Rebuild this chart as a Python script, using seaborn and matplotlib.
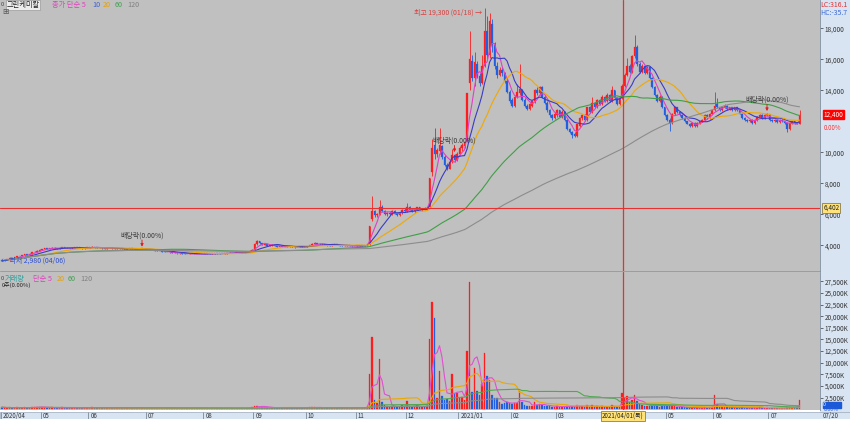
import numpy as np
import pandas as pd
import matplotlib
matplotlib.use("Agg")
import matplotlib.pyplot as plt
import matplotlib.transforms as mtrans
from matplotlib.patches import Rectangle
import seaborn as sns

# ---------------- data ----------------
month_labels = ["2020/04", "05", "06", "07", "08", "09", "10", "11", "12",
                "2021/01", "02", "03", "05", "06", "07"]
month_starts = [0, 16, 35, 58, 81, 101, 122, 142, 162, 183, 204, 222, 266, 285, 307]

opens = [
    3010,2990,3060,3100,3190,3150,3230,3310,3280,3350,3430,3400,3470,3560,3600,3660,
    3700,3760,3800,3780,3820,3850,3800,3780,3830,3870,3850,3820,3800,3840,3880,3860,3820,3800,3830,
    3850,3880,3900,3860,3820,3850,3800,3780,3820,3850,3800,3760,3780,3800,3750,3720,3760,3800,3780,3750,3730,3760,3780,
    3740,3720,3700,3680,3650,3620,3640,3600,3580,3560,3540,3520,3500,3480,3500,3470,3450,3430,3460,3440,3420,3450,3430,
    3440,3460,3480,3450,3470,3500,3480,3460,3440,3470,3500,3520,3500,3530,3550,3520,3540,3560,3600,3650,
    3720,4100,4250,4150,4050,4080,3980,4000,4030,3960,3920,3940,3900,3920,3960,3930,3890,3870,3900,3920,3890,
    3900,3950,4020,4080,4150,4100,4060,4100,4030,4000,3980,4020,4060,4010,3980,3950,3970,3990,3960,3940,
    3960,3970,3980,3960,4000,4060,5700,6200,5950,6000,6500,6200,6000,6100,6000,6200,6050,5950,6100,6300,
    6200,6500,6300,6200,6300,6450,6300,6350,6300,6450,8700,10500,9900,10100,10400,9700,9200,8950,9400,9800,9500,
    9900,10300,10400,10700,14500,15900,14800,15700,14900,14500,15600,17800,16300,18300,16900,15600,15000,15300,15100,14600,13900,
    13400,13000,13600,13800,14000,13400,13000,12800,13000,13300,14000,13800,14200,13600,13200,12700,12400,12200,
    12400,12700,12300,12600,12100,11500,11300,11200,11050,11700,12200,12400,12100,12900,12600,13200,12900,13400,13100,13600,13300,13700,13300,14000,13500,13100,
    13500,14300,15000,15600,15200,16200,16800,15700,15200,15600,15100,15500,14800,14200,13700,13300,13600,12900,
    12400,12100,11900,12500,12900,12600,12400,12200,12000,11850,11700,11900,11700,11900,12000,12100,12400,12200,12500,
    12700,13100,12900,12700,12900,13000,12800,12900,12700,12900,12700,12500,12200,12100,12000,12100,11900,12100,12300,12400,12200,12400,
    12450,12100,12000,12100,11950,12100,12000,11900,11500,11900,12000,11900,11850,
]
closes = [
    2990,3060,3100,3190,3150,3230,3310,3280,3350,3430,3400,3470,3560,3600,3660,3700,
    3760,3800,3780,3820,3850,3800,3780,3830,3870,3850,3820,3800,3840,3880,3860,3820,3800,3830,3850,
    3880,3900,3860,3820,3850,3800,3780,3820,3850,3800,3760,3780,3800,3750,3720,3760,3800,3780,3750,3730,3760,3780,3740,
    3720,3700,3680,3650,3620,3640,3600,3580,3560,3540,3520,3500,3480,3500,3470,3450,3430,3460,3440,3420,3450,3430,3440,
    3460,3480,3450,3470,3500,3480,3460,3440,3470,3500,3520,3500,3530,3550,3520,3540,3560,3600,3650,3720,
    4100,4250,4150,4050,4080,3980,4000,4030,3960,3920,3940,3900,3920,3960,3930,3890,3870,3900,3920,3890,3900,
    3950,4020,4080,4150,4100,4060,4100,4030,4000,3980,4020,4060,4010,3980,3950,3970,3990,3960,3940,3960,
    3970,3980,3960,4000,4050,5260,6200,5950,6000,6500,6200,6000,6100,6000,6200,6050,5950,6100,6300,6200,
    6500,6300,6200,6300,6450,6300,6350,6300,6400,8350,10300,9900,10150,10500,9700,9200,8950,9400,9800,9500,9900,
    10300,10450,10650,13850,16000,14800,15800,14900,14500,15600,17800,16300,18500,16900,15600,15000,15300,15100,14600,13900,13300,
    13000,13600,13900,14100,13400,13000,12800,13100,13300,14000,13800,14200,13600,13200,12700,12400,12200,12500,
    12700,12300,12600,12100,11500,11300,11100,11050,11800,12200,12400,12100,12900,12600,13200,12900,13400,13100,13600,13300,13700,13300,14000,13500,13100,13500,
    14300,15000,15600,15200,16200,16800,15700,15200,15600,15100,15500,14800,14200,13700,13300,13600,12900,12400,
    12100,11900,12500,12900,12600,12400,12200,12000,11850,11700,11900,11700,11900,12000,12100,12400,12200,12500,12700,
    13000,12900,12700,12900,13000,12800,12900,12700,12900,12700,12500,12200,12100,12000,12100,11900,12100,12300,12400,12200,12400,12500,
    12100,12000,12100,11950,12100,12000,11900,11500,11900,12000,11900,11850,12400,
]
highs = [
    3040,3080,3130,3220,3210,3260,3340,3330,3380,3460,3450,3500,3590,3640,3700,3760,
    3790,3830,3830,3850,3880,3870,3820,3860,3900,3900,3870,3840,3870,3910,3900,3880,3840,3860,3880,
    3910,3940,3920,3880,3870,3860,3820,3840,3880,3870,3810,3800,3830,3810,3770,3780,3830,3820,3800,3770,3780,3800,3800,
    3760,3740,3720,3700,3670,3660,3650,3620,3600,3580,3560,3540,3520,3520,3510,3490,3460,3480,3470,3450,3470,3460,3460,
    3480,3500,3490,3490,3520,3510,3490,3470,3490,3520,3540,3530,3550,3570,3560,3560,3580,3620,3680,3780,
    4180,4350,4280,4160,4120,4090,4030,4060,4040,3980,3960,3950,3940,3980,3980,3940,3900,3920,3940,3930,3920,
    3980,4050,4120,4200,4170,4120,4130,4110,4050,4020,4050,4090,4070,4020,3990,3990,4010,4000,3970,3980,
    3990,4000,4010,4030,4080,5260,7200,6300,6100,6900,6600,6250,6150,6200,6250,6250,6100,6150,6350,6400,
    6700,6550,6400,6350,6500,6500,6400,6450,6500,8350,10850,11600,10300,11600,10500,9800,9300,9500,10200,9900,10000,
    10400,10600,10700,13850,17800,16300,16500,15900,15100,16300,19300,18800,19000,18600,17100,15800,15500,15500,15200,14700,14000,
    13500,13700,14400,15700,14100,13500,13100,13200,13400,14100,14200,14300,14250,13700,13300,12800,12500,12600,
    12800,12750,12700,12650,12150,11600,11400,11300,11850,12250,12500,12450,12950,13000,13600,13250,13450,13450,13700,13650,13800,13750,14300,14050,13550,13600,
    14400,15100,16100,15700,16300,17600,16900,15800,15700,15650,15600,15550,14850,14250,13750,13700,13650,12950,
    12450,12200,12550,13000,12950,12650,12450,12250,12050,11900,11950,11950,11950,12050,12150,12450,12450,12550,12750,
    13900,13500,12950,12950,13100,13050,12950,12950,12950,12950,12750,12550,12250,12150,12150,12150,12150,12350,12450,12450,12450,12550,
    12500,12150,12150,12150,12150,12150,12050,11950,11950,12050,12050,11950,12700,
]
lows = [
    2980,2980,3040,3080,3130,3140,3210,3260,3270,3330,3380,3390,3450,3540,3580,3640,
    3680,3740,3760,3760,3800,3790,3760,3770,3810,3830,3800,3780,3790,3820,3840,3800,3780,3790,3810,
    3830,3860,3850,3800,3810,3790,3760,3770,3800,3790,3750,3740,3770,3740,3700,3710,3750,3770,3740,3720,3720,3740,3730,
    3700,3690,3670,3640,3610,3610,3590,3570,3550,3530,3510,3490,3470,3470,3460,3440,3420,3420,3430,3410,3410,3420,3420,
    3420,3440,3430,3440,3460,3470,3450,3420,3430,3460,3490,3490,3490,3520,3510,3510,3530,3550,3590,3640,
    3700,4050,4100,4020,4020,3960,3960,3980,3950,3900,3900,3880,3890,3900,3910,3870,3850,3860,3880,3880,3870,
    3880,3930,4000,4060,4080,4040,4040,4020,3980,3960,3970,4000,4000,3970,3930,3940,3960,3950,3920,3930,
    3940,3950,3950,3950,3980,4050,5600,5850,5800,5950,6150,5950,5900,5950,5980,6000,5900,5900,6050,6150,
    6150,6250,6150,6100,6250,6250,6200,6250,6250,6400,8500,9600,9700,9900,9600,9100,8850,8900,9300,9400,9450,
    9800,10100,10300,10650,14000,14600,14300,14800,14300,14400,15500,16000,16100,16500,15400,14800,14900,14900,14500,13800,13200,
    12900,12950,13500,13700,13300,12900,12700,12700,12950,13200,13700,13700,13500,13100,12600,12300,12100,12150,
    12300,12250,12200,12050,11450,11250,10950,11000,11000,11650,12100,12050,12050,12550,12550,12850,12850,13050,13050,13250,13250,13250,13250,13450,13050,13050,
    13450,14200,14900,15100,15100,16100,15600,15100,15100,15050,15050,14750,14150,13650,13250,13250,12850,12350,
    12050,11400,11850,12400,12550,12350,12150,11950,11800,11650,11650,11650,11650,11850,11950,12050,12150,12150,12450,
    12650,12850,12650,12650,12850,12750,12750,12650,12650,12650,12450,12150,12050,11950,11950,11850,11850,12050,12250,12150,12150,12350,
    12050,11950,11950,11900,11900,11950,11850,11300,11450,11850,11850,11800,11800,
]
volumes_k = [
    420,380,350,400,300,320,450,300,350,420,300,350,500,450,480,520,
    500,450,300,350,400,300,250,300,420,350,280,250,300,380,300,260,240,280,300,
    350,400,300,280,260,300,250,260,300,280,240,220,250,260,240,230,280,260,240,220,250,270,300,
    250,230,220,200,230,210,200,190,200,180,190,200,210,180,190,200,220,180,170,190,200,180,190,
    200,180,170,190,210,200,180,190,200,220,210,200,220,240,210,220,250,300,350,450,
    700,800,600,500,450,400,380,350,320,300,300,280,260,280,270,260,250,260,280,250,260,
    300,400,450,500,350,300,350,300,280,260,300,350,280,260,250,240,260,250,230,240,
    250,260,240,300,500,7500,15500,2000,1300,10800,1500,900,700,600,800,600,500,600,900,700,
    1700,800,600,600,900,600,500,500,700,15100,23000,19600,2400,8200,2800,2000,2200,1800,7500,3400,3400,
    2500,2600,2000,12500,27400,3700,8800,3900,3000,5500,12000,7100,6200,3000,2500,2400,1500,1200,1300,1500,1400,
    1200,1400,1300,3900,1500,900,800,700,800,1500,900,1100,900,700,800,700,600,600,
    700,500,600,500,800,600,700,500,900,800,700,500,900,500,900,500,700,500,700,500,600,500,1000,600,500,600,
    3500,2500,2800,1500,2000,3000,1800,1200,900,800,700,800,900,800,900,600,800,900,
    700,900,800,700,500,400,400,400,400,400,300,300,300,300,300,500,300,400,500,
    3000,1200,600,500,500,400,400,400,400,300,300,400,300,300,300,300,300,300,400,300,300,400,
    300,300,200,200,200,200,300,600,500,300,300,400,2000,
]

ma_periods = [5, 10, 20, 60, 120]
vol_ma_periods = [5, 20, 60, 120]
price_ticks = [4000, 6000, 8000, 10000, 14000, 16000, 18000]
vol_ticks = [2500, 5000, 7500, 10000, 12500, 15000, 17500, 20000, 22500, 25000, 27500]

high_idx, high_val = 193, 19300
low_idx, low_val = 0, 2980
exdiv_idx = [56, 181, 306]
cross_idx, cross_price = 248.4, 6402
last_price = 12400

# ---------------- style ----------------
sns.set_theme(style="white")
plt.rcParams["font.family"] = ["Noto Sans CJK KR", "DejaVu Sans"]
plt.rcParams["axes.unicode_minus"] = False

BG = "#c0c0c0"
PANEL = "#d8e4f2"
RED = "#ff1c1c"
BLUE = "#1f5fe0"
CROSS = "#e83030"
MA_COLORS = {5: "#e040c8", 10: "#3b3bc4", 20: "#f0a800", 60: "#3f9f45", 120: "#8c8c8c"}
VOL_COLORS = {5: "#e050d0", 20: "#eaa800", 60: "#50a850", 120: "#8c8c8c"}

W, H = 850, 423
fig = plt.figure(figsize=(W / 100, H / 100), dpi=100, facecolor="white")

n = min(len(opens), len(closes), len(highs), len(lows), len(volumes_k))
o = np.array(opens[:n], float)
c = np.array(closes[:n], float)
h = np.maximum(np.array(highs[:n], float), np.maximum(o, c))
l = np.minimum(np.array(lows[:n], float), np.minimum(o, c))
v = np.array(volumes_k[:n], float)
idx = np.arange(n)
up = c >= o
cols = np.where(up, RED, BLUE)

# background panel (right axis strip)
fig.patches.append(Rectangle((820 / W, 4 / H), 30 / W, 1 - 4 / H, transform=fig.transFigure,
                             fc=PANEL, ec="none", zorder=-10))

X0, X1 = -0.8, -0.8 + 820 / 2.5

# ---------------- price pane ----------------
ax = fig.add_axes([0, 1 - 271 / H, 820 / W, 271 / H])
ax.set_facecolor(BG)
ax.vlines(idx, l, h, colors=cols, lw=0.6, zorder=3)
ax.bar(idx, np.maximum(np.abs(c - o), 35), bottom=np.minimum(o, c), width=0.72,
       color=cols, edgecolor=cols, linewidth=0.2, zorder=4)
cs = pd.Series(c)
for p in ma_periods:
    sns.lineplot(x=idx, y=cs.rolling(p, min_periods=1).mean().values, ax=ax,
                 color=MA_COLORS[p], lw=0.8, zorder=5)
ax.set_xlim(X0, X1)
ax.set_ylim(2342, 19826)
ax.yaxis.tick_right()
ax.set_yticks(price_ticks)
ax.set_yticklabels([f"{t:,}" for t in price_ticks])
ax.tick_params(axis="y", right=True, left=False, labelsize=4.6, length=2.5, width=0.5,
               pad=0.8, colors="#333333", direction="out")
ax.tick_params(axis="x", bottom=False, labelbottom=False)
ax.set_xlabel("")
ax.set_ylabel("")
for s in ax.spines.values():
    s.set_visible(False)
ax.spines["right"].set_visible(True)
ax.spines["right"].set_color("#7f8c9c")
ax.spines["right"].set_linewidth(0.6)
ax.spines["bottom"].set_visible(True)
ax.spines["bottom"].set_color("#8a8a8a")
ax.spines["bottom"].set_linewidth(0.6)

# crosshair
ax.axvline(cross_idx, color=CROSS, lw=0.9, zorder=6)
ax.axhline(cross_price, color=CROSS, lw=0.8, zorder=6)

# annotations
ax.annotate(f"최고 {high_val:,} (01/18) →", xy=(high_idx - 0.3, high_val), xytext=(-1, -3),
            textcoords="offset points", ha="right", va="center", fontsize=5, color="#e03c3c", zorder=7)
ax.annotate(f"← 최저 {low_val:,} (04/06)", xy=(low_idx, low_val), xytext=(-1, 0.5),
            textcoords="offset points", ha="left", va="center", fontsize=5, color="#2a4fd8", zorder=7)
for i in exdiv_idx:
    hv = h[i]
    ax.annotate("", xy=(i, hv), xytext=(0, 6), textcoords="offset points",
                arrowprops=dict(arrowstyle="-|>", color="#e02020", lw=0.7, shrinkA=0, shrinkB=1.2,
                                mutation_scale=4), zorder=7)
    ax.annotate("배당락(0.00%)", xy=(i, hv), xytext=(0, 9.5), textcoords="offset points",
                ha="center", va="center", fontsize=5, color="#3a3a3a", zorder=7)

bt = mtrans.blended_transform_factory(ax.transAxes, ax.transData)
ax.text(1.004, last_price + 60, f"{last_price:,}", transform=bt, ha="left", va="center", fontsize=4.6,
        color="white", bbox=dict(fc="#ff0000", ec="#ff0000", pad=0.4), zorder=8, clip_on=False)
ax.text(1.004, last_price - 860, "0.00%", transform=bt, ha="left", va="center", fontsize=4.4,
        color="#ff3030", zorder=8, clip_on=False)
ax.text(1.004, cross_price, f"{cross_price:,}", transform=bt, ha="left", va="center", fontsize=4.6,
        color="#202020", bbox=dict(fc="#ffe27a", ec="#7a6a30", lw=0.5, pad=0.6), zorder=8, clip_on=False)

# ---------------- volume pane ----------------
axv = fig.add_axes([0, 13 / H, 820 / W, 138 / H])
axv.set_facecolor(BG)
axv.bar(idx, v, width=0.72, color=cols, edgecolor=cols, linewidth=0.2, zorder=3)
vs = pd.Series(v)
for p in vol_ma_periods:
    sns.lineplot(x=idx, y=vs.rolling(p, min_periods=1).mean().values, ax=axv,
                 color=VOL_COLORS[p], lw=0.8, zorder=5)
axv.set_xlim(X0, X1)
axv.set_ylim(-150, 29492)
axv.yaxis.tick_right()
axv.set_yticks(vol_ticks)
axv.set_yticklabels([f"{t:,}K" for t in vol_ticks])
axv.tick_params(axis="y", right=True, left=False, labelsize=4.6, length=2.5, width=0.5,
                pad=0.8, colors="#333333", direction="out")
axv.tick_params(axis="x", bottom=False, labelbottom=False)
axv.set_xlabel("")
axv.set_ylabel("")
for s in axv.spines.values():
    s.set_visible(False)
axv.spines["right"].set_visible(True)
axv.spines["right"].set_color("#7f8c9c")
axv.spines["right"].set_linewidth(0.6)
axv.axvline(cross_idx, color=CROSS, lw=0.9, zorder=6)
btv = mtrans.blended_transform_factory(axv.transAxes, axv.transData)
axv.text(1.004, 1000, "0             ", transform=btv, ha="left", va="center", fontsize=3.8,
         color="white", bbox=dict(fc="#1a5ad8", ec="#1a5ad8", pad=0.3), zorder=8, clip_on=False)
axv.text(1.004, -80, "0.00%", transform=btv, ha="left", va="center", fontsize=3.8,
         color="#2a5ae0", zorder=8, clip_on=False)

# ---------------- date row ----------------
axd = fig.add_axes([0, 4 / H, 1, 7 / H])
axd.set_facecolor(PANEL)
axd.set_xlim(X0, -0.8 + W / 2.5)
axd.set_ylim(0, 1)
axd.axis("off")
axd.add_patch(Rectangle((0, 0), 1, 1, transform=axd.transAxes, fc=PANEL, ec="#9aa8b8", lw=0.5))
for lab, st in zip(month_labels, month_starts):
    axd.vlines(st - 0.6, 0, 1, color="#7a8898", lw=0.6)
    axd.text(st + 0.4, 0.45, lab, ha="left", va="center", fontsize=4.4, color="#333333")
axd.text(328.4, 0.45, "07/20", ha="left", va="center", fontsize=4.4, color="#333333")
axd.text(cross_idx, 0.45, "2021/04/01(목)", ha="center", va="center", fontsize=4.4, color="#222222",
         bbox=dict(fc="#ffe27a", ec="#7a6a30", lw=0.5, pad=0.6), zorder=5)

# ---------------- legends / header texts ----------------
def ftxt(x, y, s, **kw):
    kw.setdefault("fontsize", 5.2)
    kw.setdefault("va", "center")
    fig.text(x / W, 1 - y / H, s, **kw)

ftxt(1, 5, "0", fontsize=4.2, color="#444444")
ftxt(6.5, 5, "그린케미칼", color="#222222",
     bbox=dict(fc="#ececec", ec="#9a9a9a", lw=0.5, pad=0.5))
ftxt(52, 5, "종가 단순 5", color="#e040c0")
ftxt(92, 5, "10", color="#4060d0")
ftxt(103, 5, "20", color="#e8a000")
ftxt(115, 5, "60", color="#40a050")
ftxt(127, 5, "120", color="#808080")
ftxt(2, 12.5, "⊞", fontsize=5.5, color="#555555")

ftxt(1, 279, "0", fontsize=4.2, color="#444444")
ftxt(5, 279, "거래량", color="#2aa3a0")
ftxt(33, 279, "단순 5", color="#e040c0")
ftxt(57, 279, "20", color="#e8a000")
ftxt(68, 279, "60", color="#40a050")
ftxt(80, 279, "120", color="#808080")
ftxt(2, 285.5, "0주(0.00%)", fontsize=4.2, color="#222222")

ftxt(820, 5, "LC:316.1", fontsize=5, color="#e03030")
ftxt(820, 13, "HC:-35.7", fontsize=5, color="#3a6ad8")

fig.savefig("out.png", dpi=100, facecolor="white")
